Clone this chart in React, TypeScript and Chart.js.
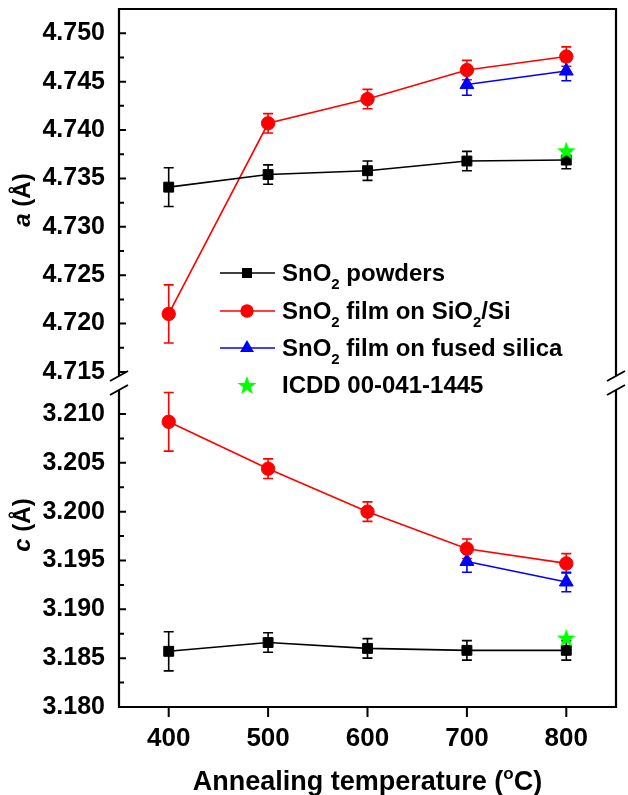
import React, { useEffect, useRef } from 'react';
import { Chart, registerables } from 'chart.js';

Chart.register(...registerables);

// ---------- data ----------
const temps = [400, 500, 600, 700, 800];
const fusedTemps = [700, 800];
const icddTemps = [800];

const powdersA = [4.7341, 4.7354, 4.7358, 4.7368, 4.7369];
const powdersAErr = [0.002, 0.001, 0.001, 0.001, 0.0009];
const siA = [4.721, 4.7407, 4.7432, 4.7462, 4.7476];
const siAErr = [0.003, 0.001, 0.001, 0.001, 0.001];
const fusedA = [4.7447, 4.7461];
const fusedAErr = [0.0011, 0.001];
const icddA = [4.7379];

const powdersC = [3.1857, 3.1866, 3.186, 3.1858, 3.1858];
const powdersCErr = [0.002, 0.001, 0.001, 0.001, 0.001];
const siC = [3.2092, 3.2044, 3.2, 3.1962, 3.1947];
const siCErr = [0.003, 0.001, 0.001, 0.001, 0.001];
const fusedC = [3.1949, 3.1928];
const fusedCErr = [0.0011, 0.001];
const icddC = [3.1871];

const aTicks = [4.715, 4.72, 4.725, 4.73, 4.735, 4.74, 4.745, 4.75];
const cTicks = [3.18, 3.185, 3.19, 3.195, 3.2, 3.205, 3.21];
const xTicks = [400, 500, 600, 700, 800];

const aRange = [4.71386, 4.75251];
const cRange = [3.18, 3.21317];
const xRange = [350, 850];

const FONT = '"Liberation Sans", Arial, sans-serif';
const GREEN = '#00ff00';

type Part = { t: string; sub?: boolean; sup?: boolean; italic?: boolean; normal?: boolean };

function partFont(p: Part, size: number) {
  const s = p.sub || p.sup ? Math.round(size * 0.62) : size;
  return `${p.italic ? 'italic ' : ''}${p.normal ? '' : 'bold '}${s}px ${FONT}`;
}
function richWidth(ctx: CanvasRenderingContext2D, parts: Part[], size: number) {
  let w = 0;
  for (const p of parts) {
    ctx.font = partFont(p, size);
    w += ctx.measureText(p.t).width;
  }
  return w;
}
function drawRich(ctx: CanvasRenderingContext2D, parts: Part[], x: number, y: number, size: number, align: 'left' | 'center') {
  const w = richWidth(ctx, parts, size);
  let cx = align === 'center' ? x - w / 2 : x;
  ctx.textAlign = 'left';
  ctx.textBaseline = 'alphabetic';
  for (const p of parts) {
    ctx.font = partFont(p, size);
    const dy = p.sub ? size * 0.3 : p.sup ? -size * 0.42 : 0;
    ctx.fillText(p.t, cx, y + dy);
    cx += ctx.measureText(p.t).width;
  }
}

function makeStar(r: number) {
  const size = Math.ceil(r * 2 + 2);
  const c = document.createElement('canvas');
  c.width = size;
  c.height = size;
  const ctx = c.getContext('2d')!;
  ctx.fillStyle = GREEN;
  ctx.beginPath();
  for (let i = 0; i < 10; i++) {
    const rad = i % 2 === 0 ? r : r * 0.4;
    const ang = -Math.PI / 2 + (i * Math.PI) / 5;
    const px = size / 2 + rad * Math.cos(ang);
    const py = size / 2 + 1 + rad * Math.sin(ang);
    if (i === 0) ctx.moveTo(px, py);
    else ctx.lineTo(px, py);
  }
  ctx.closePath();
  ctx.fill();
  return c;
}

const errorBarPlugin = {
  id: 'errbars',
  beforeDatasetsDraw(chart: any) {
    const ctx = chart.ctx;
    chart.data.datasets.forEach((ds: any, i: number) => {
      const errs = ds.errorBars;
      if (!errs) return;
      const meta = chart.getDatasetMeta(i);
      const ys = chart.scales[ds.yAxisID];
      ctx.save();
      ctx.strokeStyle = ds.borderColor;
      ctx.lineWidth = 1.6;
      meta.data.forEach((pt: any, j: number) => {
        const v = ds.data[j].y;
        const e = errs[j];
        const y1 = ys.getPixelForValue(v + e);
        const y2 = ys.getPixelForValue(v - e);
        const x = pt.x;
        ctx.beginPath();
        ctx.moveTo(x, y1);
        ctx.lineTo(x, y2);
        ctx.moveTo(x - 5, y1);
        ctx.lineTo(x + 5, y1);
        ctx.moveTo(x - 5, y2);
        ctx.lineTo(x + 5, y2);
        ctx.stroke();
      });
      ctx.restore();
    });
  },
};

function makeFramePlugin(star: HTMLCanvasElement) {
  return {
    id: 'frame',
    afterDraw(chart: any) {
      const ctx: CanvasRenderingContext2D = chart.ctx;
      const { left, right, top, bottom } = chart.chartArea;
      const ya = chart.scales.ya;
      const yc = chart.scales.yc;
      const xs = chart.scales.x;
      const brk = Math.min(ya.bottom, yc.bottom); // boundary between panels
      const b1 = brk - 7;
      const b2 = brk + 7;
      ctx.save();
      ctx.strokeStyle = '#000';
      ctx.fillStyle = '#000';
      ctx.lineWidth = 2.2;
      ctx.lineCap = 'butt';
      // frame
      ctx.beginPath();
      ctx.moveTo(left - 1.1, top);
      ctx.lineTo(right + 1.1, top);
      ctx.moveTo(left - 1.1, bottom);
      ctx.lineTo(right + 1.1, bottom);
      ctx.moveTo(left, top);
      ctx.lineTo(left, b1);
      ctx.moveTo(left, b2);
      ctx.lineTo(left, bottom);
      ctx.moveTo(right, top);
      ctx.lineTo(right, b1);
      ctx.moveTo(right, b2);
      ctx.lineTo(right, bottom);
      ctx.stroke();
      // break slashes
      ctx.lineWidth = 2;
      ctx.beginPath();
      for (const xx of [left, right]) {
        for (const yy of [b1, b2]) {
          ctx.moveTo(xx - 9, yy + 5);
          ctx.lineTo(xx + 9, yy - 5);
        }
      }
      ctx.stroke();
      // y ticks (inward)
      ctx.lineWidth = 2;
      ctx.beginPath();
      const ticksFor = (scale: any, vals: number[]) => {
        vals.forEach((v, i) => {
          const y = scale.getPixelForValue(v);
          ctx.moveTo(left, y);
          ctx.lineTo(left + 7, y);
          if (i < vals.length - 1) {
            const ym = scale.getPixelForValue((v + vals[i + 1]) / 2);
            ctx.moveTo(left, ym);
            ctx.lineTo(left + 5, ym);
          }
        });
      };
      ticksFor(ya, aTicks);
      ticksFor(yc, cTicks);
      // x ticks (outward)
      xTicks.forEach((v) => {
        const x = xs.getPixelForValue(v);
        ctx.moveTo(x, bottom);
        ctx.lineTo(x, bottom + 10);
      });
      ctx.stroke();
      // y tick labels
      ctx.font = `bold 25px ${FONT}`;
      ctx.textAlign = 'right';
      ctx.textBaseline = 'middle';
      aTicks.forEach((v) => ctx.fillText(v.toFixed(3), left - 14, ya.getPixelForValue(v)));
      cTicks.forEach((v) => ctx.fillText(v.toFixed(3), left - 14, yc.getPixelForValue(v)));
      // x tick labels
      ctx.font = `bold 26px ${FONT}`;
      ctx.textAlign = 'center';
      ctx.textBaseline = 'alphabetic';
      xTicks.forEach((v) => ctx.fillText(String(v), xs.getPixelForValue(v), bottom + 39));
      // x title
      drawRich(
        ctx,
        [{ t: 'Annealing temperature (' }, { t: 'o', sup: true }, { t: 'C)' }],
        (left + right) / 2,
        790,
        27,
        'center'
      );
      // y titles
      const yTitle = (letter: string, cy: number) => {
        ctx.save();
        ctx.translate(30, cy);
        ctx.rotate(-Math.PI / 2);
        drawRich(ctx, [{ t: letter, italic: true }, { t: ' (Å)' }], 0, 0, 24, 'center');
        ctx.restore();
      };
      yTitle('a', 200);
      yTitle('c', 525);
      // legend
      const lx0 = 220;
      const lx1 = 275;
      const mx = 247;
      const tx = 282;
      const rows = [273, 311, 348, 385];
      const lsize = 24;
      const entries: { color: string; marker: string; parts: Part[] }[] = [
        { color: '#000', marker: 'rect', parts: [{ t: 'SnO' }, { t: '2', sub: true }, { t: ' powders' }] },
        {
          color: '#ff0000',
          marker: 'circle',
          parts: [{ t: 'SnO' }, { t: '2', sub: true }, { t: ' film on SiO' }, { t: '2', sub: true }, { t: '/Si' }],
        },
        {
          color: '#0000ff',
          marker: 'triangle',
          parts: [{ t: 'SnO' }, { t: '2', sub: true }, { t: ' film on fused silica' }],
        },
        { color: GREEN, marker: 'star', parts: [{ t: 'ICDD 00-041-1445' }] },
      ];
      entries.forEach((e, i) => {
        const y = rows[i];
        if (e.marker !== 'star') {
          ctx.strokeStyle = e.color;
          ctx.lineWidth = 1.6;
          ctx.beginPath();
          ctx.moveTo(lx0, y);
          ctx.lineTo(lx1, y);
          ctx.stroke();
        }
        ctx.fillStyle = e.color;
        ctx.beginPath();
        if (e.marker === 'rect') {
          ctx.rect(mx - 5, y - 5, 10, 10);
          ctx.fill();
        } else if (e.marker === 'circle') {
          ctx.arc(mx, y, 6.7, 0, Math.PI * 2);
          ctx.fill();
        } else if (e.marker === 'triangle') {
          const r = 8;
          ctx.moveTo(mx, y - r);
          ctx.lineTo(mx + r * 0.866, y + r / 2);
          ctx.lineTo(mx - r * 0.866, y + r / 2);
          ctx.closePath();
          ctx.fill();
        } else {
          ctx.drawImage(star, mx - star.width / 2, y - star.height / 2);
        }
        ctx.fillStyle = '#000';
        drawRich(ctx, e.parts, tx, y + lsize * 0.35, lsize, 'left');
      });
      ctx.restore();
    },
  };
}

const pts = (xs: number[], ys: number[]) => xs.map((x, i) => ({ x, y: ys[i] }));

export default function App() {
  const ref = useRef<HTMLCanvasElement | null>(null);
  useEffect(() => {
    if (!ref.current) return;
    const star = makeStar(10);
    const lineDs = (data: any, axis: string, color: string, style: string, radius: number, errs: number[]) => ({
      data,
      yAxisID: axis,
      borderColor: color,
      backgroundColor: color,
      pointBackgroundColor: color,
      pointBorderColor: color,
      pointStyle: style,
      pointRadius: radius,
      pointBorderWidth: 1,
      borderWidth: 1.6,
      showLine: true,
      errorBars: errs,
    });
    const chart = new Chart(ref.current, {
      type: 'line',
      data: {
        datasets: [
          { data: pts(icddTemps, icddA), yAxisID: 'ya', pointStyle: star, showLine: false, borderColor: GREEN, backgroundColor: GREEN } as any,
          { data: pts(icddTemps, icddC), yAxisID: 'yc', pointStyle: star, showLine: false, borderColor: GREEN, backgroundColor: GREEN } as any,
          lineDs(pts(temps, powdersA), 'ya', '#000000', 'rect', 7, powdersAErr),
          lineDs(pts(temps, powdersC), 'yc', '#000000', 'rect', 7, powdersCErr),
          lineDs(pts(temps, siA), 'ya', '#ff0000', 'circle', 6.7, siAErr),
          lineDs(pts(temps, siC), 'yc', '#ff0000', 'circle', 6.7, siCErr),
          lineDs(pts(fusedTemps, fusedA), 'ya', '#0000ff', 'triangle', 8, fusedAErr),
          lineDs(pts(fusedTemps, fusedC), 'yc', '#0000ff', 'triangle', 8, fusedCErr),
        ] as any,
      },
      options: {
        animation: false,
        responsive: false,
        devicePixelRatio: 1,
        layout: { padding: { left: 0, top: 9, right: 12, bottom: 0 } },
        plugins: { legend: { display: false }, tooltip: { enabled: false } },
        scales: {
          x: {
            type: 'linear',
            position: 'bottom',
            min: xRange[0],
            max: xRange[1],
            grid: { display: false, drawTicks: false },
            border: { display: false },
            ticks: { display: false },
            afterFit: (s: any) => {
              s.height = 88;
            },
          },
          yc: {
            type: 'linear',
            position: 'left',
            stack: 'y',
            stackWeight: 324,
            min: cRange[0],
            max: cRange[1],
            grid: { display: false, drawTicks: false },
            border: { display: false },
            ticks: { display: false },
            afterFit: (s: any) => {
              s.width = 119;
            },
          },
          ya: {
            type: 'linear',
            position: 'left',
            stack: 'y',
            stackWeight: 374,
            min: aRange[0],
            max: aRange[1],
            grid: { display: false, drawTicks: false },
            border: { display: false },
            ticks: { display: false },
            afterFit: (s: any) => {
              s.width = 119;
            },
          },
        } as any,
      },
      plugins: [errorBarPlugin, makeFramePlugin(star)],
    });
    return () => chart.destroy();
  }, []);
  return (
    <div style={{ position: 'fixed', left: 0, top: 0, width: 628, height: 795, background: '#fff' }}>
      <canvas ref={ref} width={628} height={795} style={{ display: 'block' }} />
    </div>
  );
}
